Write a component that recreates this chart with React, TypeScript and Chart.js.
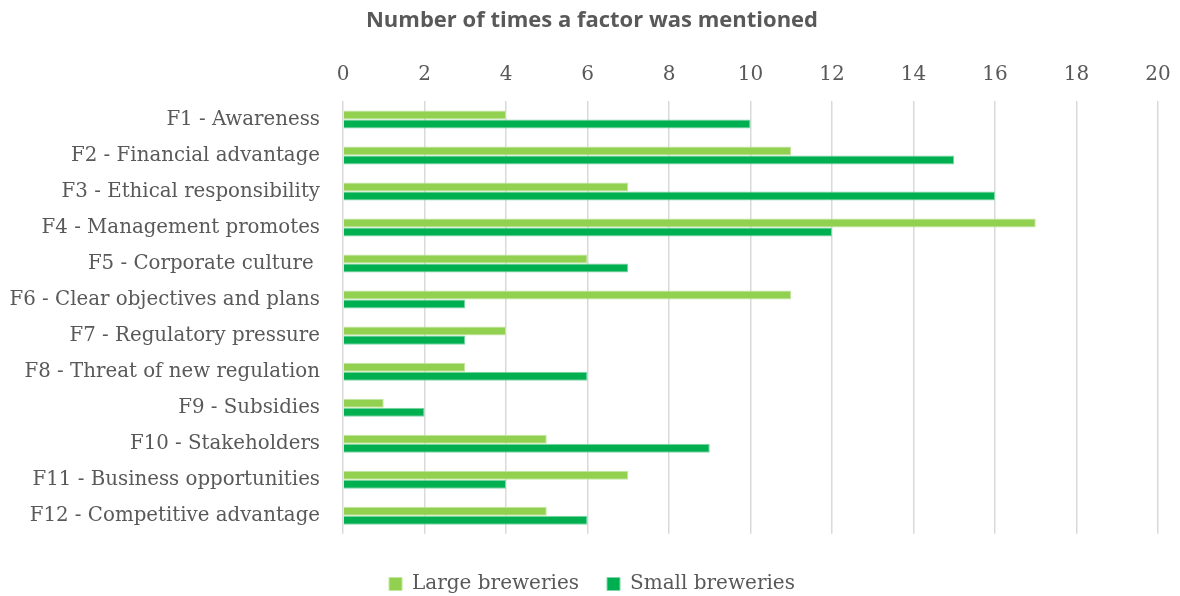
import React, { useEffect, useRef } from "react";
import { Chart, registerables } from "chart.js";

Chart.register(...registerables);

const categories = [
  "F1 - Awareness",
  "F2 - Financial advantage",
  "F3 - Ethical responsibility",
  "F4 - Management promotes",
  "F5 - Corporate culture ",
  "F6 - Clear objectives and plans",
  "F7 - Regulatory pressure",
  "F8 - Threat of new regulation",
  "F9 - Subsidies",
  "F10 - Stakeholders",
  "F11 - Business opportunities",
  "F12 - Competitive advantage",
];

const largeBreweries = [4, 11, 7, 17, 6, 11, 4, 3, 1, 5, 7, 5];
const smallBreweries = [10, 15, 16, 12, 7, 3, 3, 6, 2, 9, 4, 6];

const titleText = "Number of times a factor was mentioned";
const seriesNames = ["Large breweries", "Small breweries"];

const serif = "'DejaVu Serif', 'Liberation Serif', serif";
const sans = "'Open Sans', 'Liberation Sans', sans-serif";
const textColor = "#595959";

export default function App() {
  const canvasRef = useRef<HTMLCanvasElement | null>(null);

  useEffect(() => {
    document.body.style.margin = "0";
    const canvas = canvasRef.current;
    if (!canvas) return;
    const chart = new Chart(canvas, {
      type: "bar",
      data: {
        labels: categories,
        datasets: [
          {
            label: seriesNames[0],
            data: largeBreweries,
            backgroundColor: "#92D050",
            borderColor: "#C4E6A0",
            borderWidth: 1,
            categoryPercentage: 0.5,
            barPercentage: 1,
          },
          {
            label: seriesNames[1],
            data: smallBreweries,
            backgroundColor: "#00B050",
            borderColor: "#7FD6A6",
            borderWidth: 1,
            categoryPercentage: 0.5,
            barPercentage: 1,
          },
        ],
      },
      options: {
        indexAxis: "y",
        animation: false,
        responsive: false,
        maintainAspectRatio: false,
        layout: { padding: { left: 4, right: 0, top: 6, bottom: -8 } },
        plugins: {
          title: {
            display: true,
            text: titleText,
            color: textColor,
            font: { family: sans, size: 22, weight: "bold" },
            padding: { top: 2, bottom: 13 },
          },
          legend: {
            position: "bottom",
            title: {
              display: true,
              text: "",
              font: { size: 1 },
              padding: { top: 0, bottom: 11 },
            },
            labels: {
              color: textColor,
              font: { family: serif, size: 20 },
              boxWidth: 13,
              boxHeight: 13,
              padding: 28,
            },
          },
          tooltip: { enabled: false },
        },
        scales: {
          x: {
            position: "top",
            min: 0,
            max: 20,
            ticks: {
              stepSize: 2,
              color: textColor,
              font: { family: serif, size: 20 },
              padding: 15,
            },
            grid: {
              color: "#D9D9D9",
              lineWidth: 1.5,
              drawTicks: false,
            },
            border: { display: false },
            afterFit: (scale: any) => {
              // leave just enough room on the right for the last tick label
              scale.paddingRight = 22;
            },
          },
          y: {
            ticks: {
              color: textColor,
              font: { family: serif, size: 19.8 },
              padding: 23,
              autoSkip: false,
            },
            grid: { display: false, drawTicks: false },
            border: { display: false },
            afterFit: (scale: any) => {
              // fixed-width label column so the plot starts at x = 343
              scale.width = 339;
            },
          },
        },
      },
    });
    return () => chart.destroy();
  }, []);

  return (
    <div style={{ width: 1180, height: 596 }}>
      <canvas ref={canvasRef} width={1180} height={596} />
    </div>
  );
}
